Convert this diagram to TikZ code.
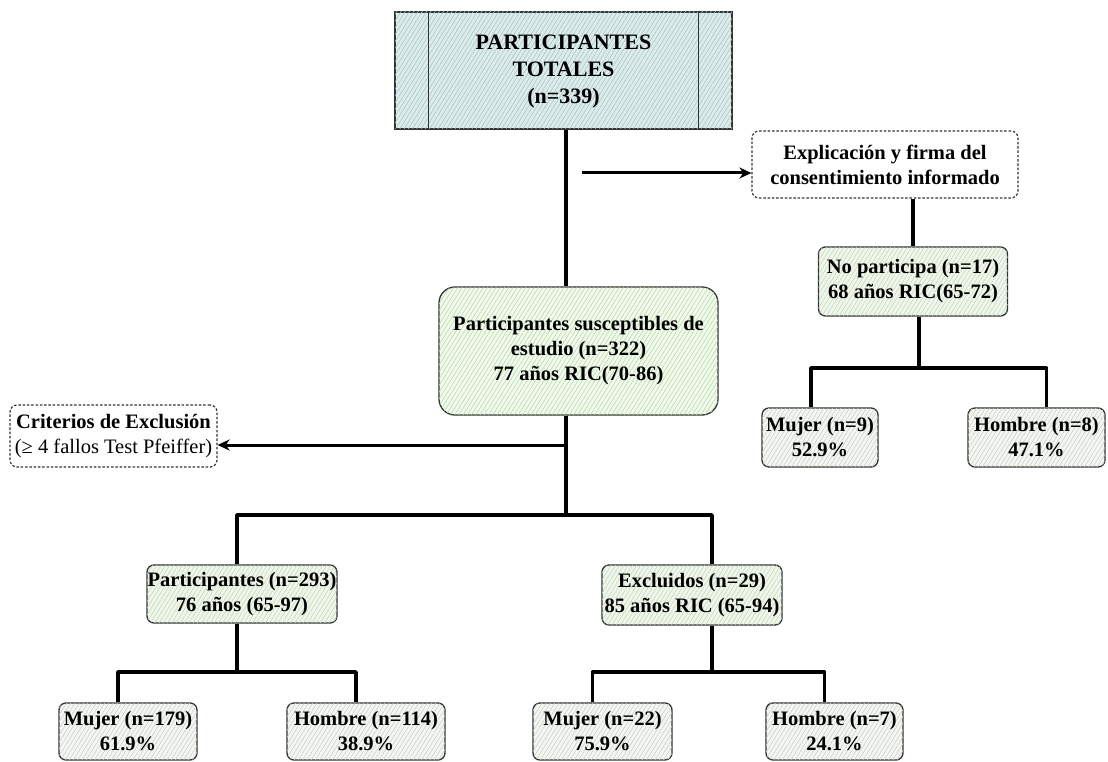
\documentclass[tikz,border=0pt]{standalone}
\usepackage{fontspec}
\setmainfont{Liberation Serif}
\usetikzlibrary{arrows.meta,patterns.meta,calc}

\definecolor{edge}{HTML}{333333}
\definecolor{tealfill}{HTML}{DDEBEA}
\definecolor{tealhatch}{HTML}{A3C8C6}
\definecolor{greenfill}{HTML}{F2F9EE}
\definecolor{greenhatch}{HTML}{B5DB9E}
\definecolor{palefill}{HTML}{F0F6EC}
\definecolor{palehatch}{HTML}{C3D9B8}
\definecolor{greyfill}{HTML}{F3F6F2}
\definecolor{greyhatch}{HTML}{C8D2C3}

\tikzset{
  txt/.style={font=\bfseries\fontsize{20.5}{25}\selectfont, align=center, inner sep=0pt},
  framed/.style={txt, draw=edge, line width=1.3pt},
  hatch/.style 2 args={fill=#1,
    postaction={pattern={Lines[angle=58,distance=3.6pt,line width=0.55pt]}, pattern color=#2}},
  headbox/.style={framed, hatch={tealfill}{tealhatch}, font=\bfseries\fontsize{22}{27}\selectfont},
  mainbox/.style={framed, rounded corners=16pt, hatch={greenfill}{greenhatch}},
  groupbox/.style={framed, rounded corners=7pt, hatch={palefill}{palehatch}},
  leafbox/.style={framed, rounded corners=7pt, hatch={greyfill}{greyhatch}},
  notebox/.style={txt, draw=edge, line width=1.2pt, dashed, dash pattern=on 2.5pt off 1.8pt,
    rounded corners=7pt, fill=white},
  conn/.style={line width=3.6pt, black, line join=round},
  arr/.style={line width=3pt, black, -{Stealth[length=12pt,width=11pt]}},
}

\begin{document}
\begin{tikzpicture}[x=1pt,y=-1pt]
\useasboundingbox (0,0) rectangle (1108,762);
\fill[white] (0,0) rectangle (1108,762);

% total participants (predefined-process box)
\node[headbox, minimum width=337pt, minimum height=117pt] (top) at (563.5,70.5) {};
\draw[edge, line width=1.3pt] ($(top.north west)+(34,0)$) -- ($(top.south west)+(34,0)$);
\draw[edge, line width=1.3pt] ($(top.north east)+(-34,0)$) -- ($(top.south east)+(-34,0)$);
\node[txt, font=\bfseries\fontsize{22}{27}\selectfont] (toptext) at (563.5,72) {PARTICIPANTES\\TOTALES\\(n=339)};

% consent and non-participants
\node[notebox, minimum width=266pt, minimum height=67pt] (cons) at (885,164.5)
  {Explicación y firma del\\consentimiento informado};
\node[groupbox, minimum width=189pt, minimum height=69pt] (np) at (913,281.5)
  {No participa (n=17)\\68 años RIC(65-72)};
\node[leafbox, minimum width=116pt, minimum height=59pt] (m9) at (820,437.5)
  {Mujer (n=9)\\52.9\%};
\node[leafbox, minimum width=137pt, minimum height=59pt] (h8) at (1036.5,437.5)
  {Hombre (n=8)\\47.1\%};

% eligible participants
\node[mainbox, minimum width=279pt, minimum height=128pt] (sus) at (578.5,351)
  {Participantes susceptibles de\\estudio (n=322)\\77 años RIC(70-86)};
\node[notebox, minimum width=207pt, minimum height=62pt] (crit) at (113.5,436)
  {Criterios de Exclusión\\{\mdseries(≥ 4 fallos Test Pfeiffer)}};

% included / excluded groups
\node[groupbox, minimum width=190pt, minimum height=58pt] (part) at (242,594)
  {Participantes (n=293)\\76 años (65-97)};
\node[groupbox, minimum width=180pt, minimum height=60pt] (excl) at (692,595)
  {Excluidos (n=29)\\85 años RIC (65-94)};

% sex breakdown
\node[leafbox, minimum width=138pt, minimum height=57pt] (m179) at (128,731.5)
  {Mujer (n=179)\\61.9\%};
\node[leafbox, minimum width=158pt, minimum height=57pt] (h114) at (366,731.5)
  {Hombre (n=114)\\38.9\%};
\node[leafbox, minimum width=139pt, minimum height=57pt] (m22) at (602.5,731.5)
  {Mujer (n=22)\\75.9\%};
\node[leafbox, minimum width=137pt, minimum height=57pt] (h7) at (834.5,731.5)
  {Hombre (n=7)\\24.1\%};

% connector rows and columns
\coordinate (spine) at (566,0);
\coordinate (a0) at (582,173);
\coordinate (r1) at (0,368);
\coordinate (r2) at (0,445);
\coordinate (r3) at (0,515);
\coordinate (r4) at (0,672);
\coordinate (xnp) at ([xshift=6pt]np.south);
\coordinate (xm9) at ([xshift=-9pt]m9.north);
\coordinate (xh8) at ([xshift=10pt]h8.north);
\coordinate (xp) at ([xshift=-5pt]part.north);
\coordinate (xe) at ([xshift=20pt]excl.north);
\coordinate (xm179) at ([xshift=-10pt]m179.north);
\coordinate (xh114) at ([xshift=-10pt]h114.north);
\coordinate (xm22) at ([xshift=-10pt]m22.north);
\coordinate (xh7) at ([xshift=-10pt]h7.north);

% connectors
\draw[conn] (top.south -| spine) -- (sus.north -| spine);
\draw[arr] (a0) -- (a0 -| cons.west);
\draw[conn] (cons.south -| np.north) -- (np.north);
\draw[conn] (xnp) -- (xnp |- r1);
\draw[conn] (xm9) |- (r1 -| xh8) -- (xh8);

\draw[conn] (sus.south -| spine) -- (spine |- r3);
\draw[arr] (spine |- r2) -- (r2 -| crit.east);
\draw[conn] (xp) |- (r3 -| xe) -- (xe);

\draw[conn] (part.south -| xp) -- (xp |- r4);
\draw[conn] (xm179) |- (r4 -| xh114) -- (xh114);
\draw[conn] (excl.south -| xe) -- (xe |- r4);
\draw[conn] (xm22) |- (r4 -| xh7) -- (xh7);
\end{tikzpicture}
\end{document}
